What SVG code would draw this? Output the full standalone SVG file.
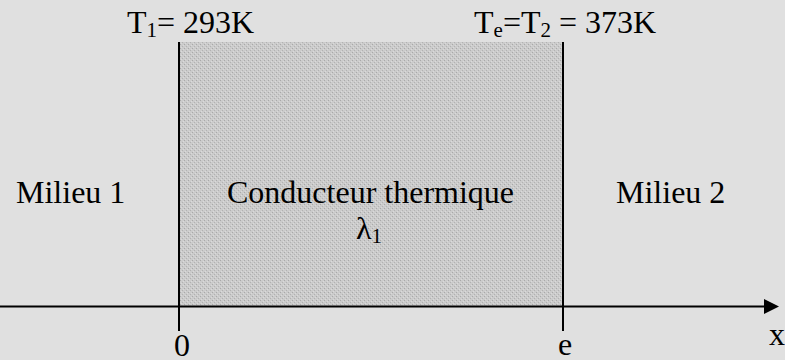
<svg xmlns="http://www.w3.org/2000/svg" width="785" height="360" viewBox="0 0 785 360">
<defs>
<pattern id="stip" width="4" height="4" patternUnits="userSpaceOnUse">
<rect width="4" height="4" fill="#cbcbcb"/>
<rect x="0" y="0" width="1" height="1" fill="#a9a9a9"/>
<rect x="2" y="2" width="1" height="1" fill="#b2b2b2"/>
<rect x="1" y="3" width="1" height="1" fill="#dadada"/>
<rect x="3" y="1" width="1" height="1" fill="#dadada"/>
</pattern>
<marker id="arr" markerWidth="15" markerHeight="15" refX="0" refY="7.5" orient="auto" markerUnits="userSpaceOnUse">
<polygon points="0,0 15,7.5 0,15" fill="#000"/>
</marker>
</defs>
<style>
text { font-family: "Liberation Serif", "Times New Roman", serif; font-size: 32px; fill: #000; }
.sub { font-size: 21px; }
.ln { stroke: #000; stroke-width: 2; fill: none; }
</style>
<rect width="785" height="360" fill="#e0e0e0"/>
<g id="conducteur">
<rect x="180" y="42" width="382" height="264" fill="url(#stip)"/>
<text x="227" y="203">Conducteur thermique</text>
<text x="356" y="239">λ<tspan class="sub" dy="4">1</tspan></text>
</g>
<g id="milieu1">
<text x="16" y="203">Milieu 1</text>
</g>
<g id="milieu2">
<text x="616" y="203">Milieu 2</text>
</g>
<g id="labels">
<text x="127" y="33">T<tspan class="sub" dy="4">1</tspan><tspan dy="-4">= 293K</tspan></text>
<text x="474" y="33">T<tspan class="sub" dy="4">e</tspan><tspan dy="-4">=T</tspan><tspan class="sub" dy="4">2</tspan><tspan dy="-4"> = 373K</tspan></text>
<text x="182" y="356" text-anchor="middle">0</text>
<text x="565" y="355" text-anchor="middle">e</text>
<text x="769" y="345">x</text>
</g>
<g id="connectors">
<line class="ln" x1="179" y1="42" x2="179" y2="331"/>
<line class="ln" x1="563" y1="42" x2="563" y2="331"/>
<line class="ln" x1="0" y1="306.5" x2="764" y2="306.5" marker-end="url(#arr)"/>
</g>
</svg>
